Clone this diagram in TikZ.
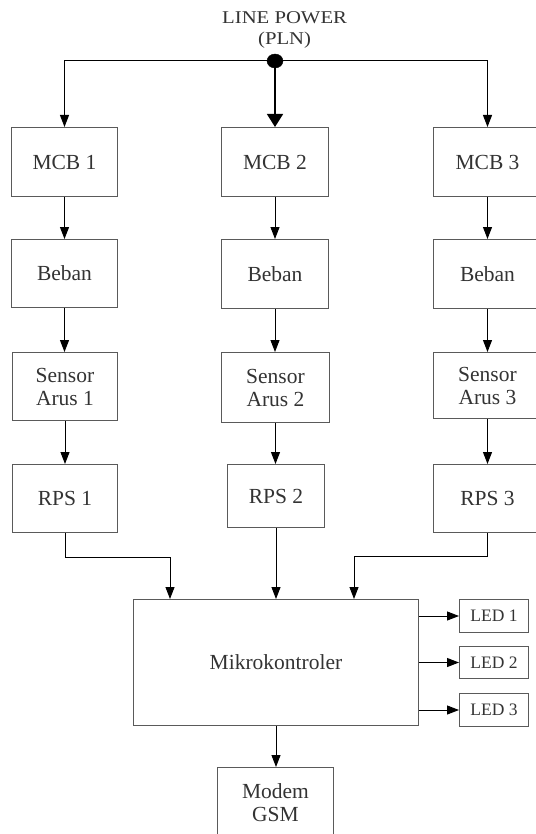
\documentclass[tikz,border=0pt]{standalone}
\usepackage{fontspec}
\setmainfont{Liberation Serif}
\usetikzlibrary{arrows.meta,calc,shapes.geometric}
\definecolor{txtc}{HTML}{333333}
\definecolor{boxc}{HTML}{5A5A5A}
\begin{document}
\begin{tikzpicture}[x=1pt,y=-1pt,
  box/.style={draw=boxc,line width=1pt,rectangle,inner sep=0pt,anchor=north west,
    text=txtc,align=center,font=\fontsize{21.5}{23}\selectfont},
  ledbox/.style={box,font=\fontsize{17.5}{19}\selectfont},
  arr/.style={draw=black,line width=1pt,-{Triangle[length=12pt,width=9pt]}},
  bigarr/.style={draw=black,line width=1.6pt,-{Triangle[length=13pt,width=16pt]}},
  lbl/.style={text=txtc,inner sep=0pt,font=\fontsize{18}{21}\selectfont}]
\useasboundingbox (0,0) rectangle (535,834);
% title
\node[lbl] (lp) at (284.6,17.5) {\scalebox{1.15}[1]{LINE POWER}};
\node[lbl] (pln) at (284.6,40) {\scalebox{1.15}[1]{(PLN)}};
\node[draw=black,fill=black,ellipse,minimum width=16pt,minimum height=14pt,inner sep=0pt] (dot) at (275,61) {};
% column 1
\node[box,minimum width=106pt,minimum height=69pt] (mcb1) at (11,127) {MCB 1};
\node[box,minimum width=106pt,minimum height=68pt] (beban1) at (11,239) {Beban};
\node[box,minimum width=105pt,minimum height=68pt] (sensor1) at (12,352) {Sensor\\Arus 1};
\node[box,minimum width=105pt,minimum height=68pt] (rps1) at (12,464) {RPS 1};
% column 2
\node[box,minimum width=107pt,minimum height=69pt] (mcb2) at (221,127) {MCB 2};
\node[box,minimum width=107pt,minimum height=69pt] (beban2) at (221,239) {Beban};
\node[box,minimum width=108pt,minimum height=70pt] (sensor2) at (221,352) {Sensor\\Arus 2};
\node[box,minimum width=97pt,minimum height=63pt] (rps2) at (227,464) {RPS 2};
% column 3
\node[box,minimum width=108pt,minimum height=69pt] (mcb3) at (433,127) {MCB 3};
\node[box,minimum width=108pt,minimum height=69pt] (beban3) at (433,239) {Beban};
\node[box,minimum width=108pt,minimum height=66pt] (sensor3) at (433,352) {Sensor\\Arus 3};
\node[box,minimum width=108pt,minimum height=68pt] (rps3) at (433,464) {RPS 3};
% microcontroller, LEDs, modem
\node[box,minimum width=285pt,minimum height=126pt] (mikro) at (133,599) {Mikrokontroler};
\node[ledbox,minimum width=69pt,minimum height=33pt] (led1) at (459,599) {LED 1};
\node[ledbox,minimum width=69pt,minimum height=32pt] (led2) at (459,646) {LED 2};
\node[ledbox,minimum width=69pt,minimum height=33pt] (led3) at (459,693) {LED 3};
\node[box,minimum width=116pt,minimum height=70pt] (modem) at (217,767) {Modem\\GSM};
% connectors top
\draw[arr] (dot) -| (mcb1.north);
\draw[arr] (dot) -| (mcb3.north);
\draw[bigarr] (dot) -- (dot |- mcb2.north);
% vertical chains
\draw[arr] (mcb1.south) -- (mcb1.south |- beban1.north);
\draw[arr] (beban1.south) -- (beban1.south |- sensor1.north);
\draw[arr] (sensor1.south) -- (sensor1.south |- rps1.north);
\draw[arr] (mcb2.south) -- (mcb2.south |- beban2.north);
\draw[arr] (beban2.south) -- (beban2.south |- sensor2.north);
\draw[arr] (sensor2.south) -- (sensor2.south |- rps2.north);
\draw[arr] (mcb3.south) -- (mcb3.south |- beban3.north);
\draw[arr] (beban3.south) -- (beban3.south |- sensor3.north);
\draw[arr] (sensor3.south) -- (sensor3.south |- rps3.north);
% RPS to microcontroller
\coordinate (j1) at (170,557);
\coordinate (j3) at (354,556);
\draw[arr] (rps1.south) |- (j1) -- (j1 |- mikro.north);
\draw[arr] (rps2.south) -- (rps2.south |- mikro.north);
\draw[arr] (rps3.south) |- (j3) -- (j3 |- mikro.north);
% LEDs
\draw[arr] (led1.west -| mikro.east) -- (led1.west);
\draw[arr] (led2.west -| mikro.east) -- (led2.west);
\draw[arr] (led3.west -| mikro.east) -- (led3.west);
% modem
\draw[arr] (mikro.south) -- (mikro.south |- modem.north);
\end{tikzpicture}
\end{document}
